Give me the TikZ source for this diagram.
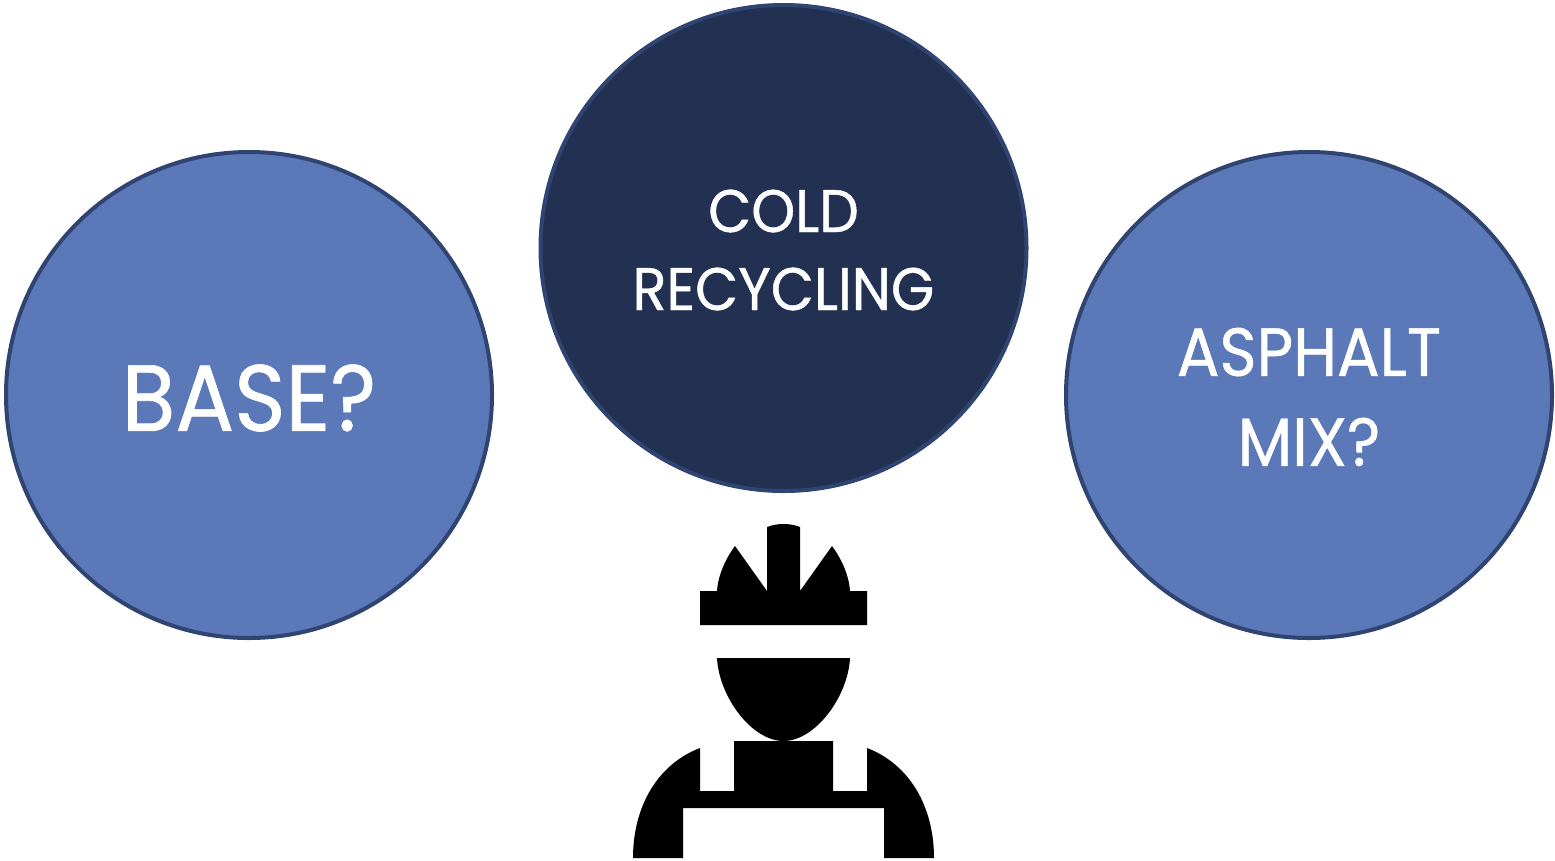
\documentclass[tikz,border=0pt]{standalone}
\usepackage{fontspec}
\setmainfont{Poppins}[FakeBold=0.7,FakeStretch=0.93]
\definecolor{side}{HTML}{5B78B8}
\definecolor{mid}{HTML}{223152}
\definecolor{rim}{HTML}{2F4470}
\tikzset{
 bubble/.style={circle,draw=rim,line width=4pt,minimum size=486pt,inner sep=0pt},
 caption/.style={text=white,align=center,inner sep=0pt},
 sil/.style={fill=black,draw=none}
}
\begin{document}
\begin{tikzpicture}[x=1pt,y=-1pt]
\useasboundingbox (0,0) rectangle (1555,860);
\node[bubble,fill=side] (base) at (249,395) {};
\node[bubble,fill=mid] (cold) at (783.5,248) {};
\node[bubble,fill=side] (mix) at (1309,395) {};
\node[caption,font=\fontsize{94}{100}\selectfont,yshift=-3pt] (baset) at (base.center) {BASE?};
\node[caption,font=\fontsize{60}{78}\selectfont,yshift=-2pt] (coldt) at (cold.center) {COLD\\RECYCLING};
\node[caption,font=\fontsize{68}{90}\selectfont,yshift=-2pt] (mixt) at (mix.center) {ASPHALT\\MIX?};
% helmet
\fill[sil] (700,625) -- (700,591) -- (717,591) .. controls (718,575) and (726,558) .. (735,546) -- (767,591) -- (767,527) .. controls (777,523) and (790,523) .. (800,527) -- (800,591) -- (832,546) .. controls (841,558) and (849,575) .. (850,591) -- (867,591) -- (867,625) -- cycle;
% face
\fill[sil] (717,658) -- (850,658) .. controls (848,697) and (815,741) .. (783.5,741) .. controls (752,741) and (719,697) .. (717,658) -- cycle;
% body
\fill[sil] (734,741) -- (833,741) -- (833,791) -- (867,791) -- (867,748) .. controls (909,764) and (934,806) .. (934,858) -- (884,858) -- (884,808) -- (683,808) -- (683,858) -- (633,858) .. controls (633,806) and (658,764) .. (700,748) -- (700,791) -- (734,791) -- cycle;
\end{tikzpicture}
\end{document}
